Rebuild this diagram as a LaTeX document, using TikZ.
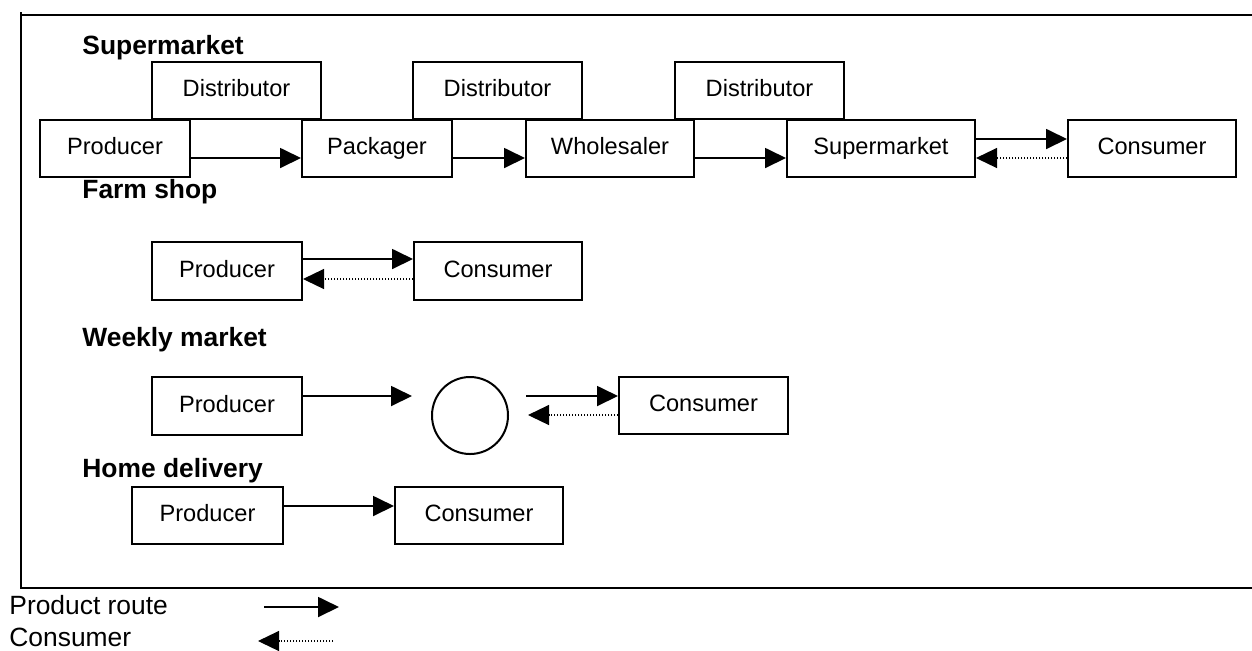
\documentclass[tikz,border=0pt]{standalone}
\usepackage{fontspec}
\setmainfont{Liberation Sans}
\usetikzlibrary{arrows.meta,calc,shapes.geometric}
\begin{document}
\begin{tikzpicture}[x=0.5pt,y=-0.5pt,
  box/.style={draw,line width=1pt,inner sep=0pt,minimum height=28.5pt,text height=8.6pt,text depth=2.4pt,font=\fontsize{11.8}{14}\selectfont},
  title/.style={anchor=base west,inner sep=0pt,font=\fontsize{13.2}{15}\selectfont\bfseries},
  legend/.style={anchor=base west,inner sep=0pt,font=\fontsize{13.2}{15}\selectfont},
  arr/.style={line width=0.9pt,-{Triangle[length=10.5pt,width=10pt]}},
  back/.style={line width=0.6pt,dash pattern=on 0.7pt off 0.8pt,-{Triangle[length=10.5pt,width=10pt]}}]
\useasboundingbox (0,0) rectangle (1252,650);
% frame
\draw[line width=1pt] (21,12) -- (21,588) -- (1252,588);
\draw[line width=1pt] (21,15) -- (1252,15);
% titles
\node[title] (t1) at (82,54) {Supermarket};
\node[title] (t2) at (82,198) {Farm shop};
\node[title] (t3) at (82,346) {Weekly market};
\node[title] (t4) at (82,477) {Home delivery};
% supermarket row
\node[box,minimum width=84.5pt] (d1) at (236.5,90.5) {Distributor};
\node[box,minimum width=84.5pt] (d2) at (497.5,90.5) {Distributor};
\node[box,minimum width=84.5pt] (d3) at (759.5,90.5) {Distributor};
\node[box,minimum width=75pt] (p1) at (115,148.5) {Producer};
\node[box,minimum width=75pt] (pk) at (377,148.5) {Packager};
\node[box,minimum width=84pt] (wh) at (610,148.5) {Wholesaler};
\node[box,minimum width=94pt] (sm) at (881,148.5) {Supermarket};
\node[box,minimum width=84pt] (c1) at (1152,148.5) {Consumer};
\draw[arr] ($(p1.east)+(0,9.5)$) -- ($(pk.west)+(0,9.5)$);
\draw[arr] ($(pk.east)+(0,9.5)$) -- ($(wh.west)+(0,9.5)$);
\draw[arr] ($(wh.east)+(0,9.5)$) -- ($(sm.west)+(0,9.5)$);
\draw[arr] ($(sm.east)+(0,-9.5)$) -- ($(c1.west)+(0,-9.5)$);
\draw[back] ($(c1.west)+(0,9.5)$) -- ($(sm.east)+(0,9.5)$);
% farm shop
\node[box,minimum width=75pt,minimum height=29pt] (p2) at (227,271) {Producer};
\node[box,minimum width=84pt,minimum height=29pt] (c2) at (498,271) {Consumer};
\draw[arr] ($(p2.east)+(0,-12)$) -- ($(c2.west)+(0,-12)$);
\draw[back] ($(c2.west)+(0,8)$) -- ($(p2.east)+(0,8)$);
% weekly market
\node[box,minimum width=75pt,minimum height=29pt] (p3) at (227,406) {Producer};
\node[draw,line width=1pt,ellipse,inner sep=0pt,minimum width=38pt,minimum height=38.5pt] (mk) at (470,415.5) {};
\node[box,minimum width=84.5pt] (c3) at (703.5,405.5) {Consumer};
\coordinate (m1) at ($(mk.west)+(-19,-19.5)$);
\coordinate (m2) at ($(mk.east)+(17,-19.5)$);
\coordinate (m3) at ($(mk.east)+(19,-0.5)$);
\draw[arr] ($(p3.east)+(0,-10)$) -- (m1);
\draw[arr] (m2) -- ($(c3.west)+(0,-9.5)$);
\draw[back] ($(c3.west)+(0,9.5)$) -- (m3);
% home delivery
\node[box,minimum width=75.5pt] (p4) at (207.5,515.5) {Producer};
\node[box,minimum width=84pt] (c4) at (479,515.5) {Consumer};
\draw[arr] ($(p4.east)+(0,-9.5)$) -- ($(c4.west)+(0,-9.5)$);
% legend
\node[legend] (l1) at (9,614) {Product route};
\node[legend] (l2) at (9,646) {Consumer};
\coordinate (a1) at (264,607);
\coordinate (a2) at (339,607);
\coordinate (b1) at (333,641);
\coordinate (b2) at (258,641);
\draw[arr] (a1) -- (a2);
\draw[back] (b1) -- (b2);
\end{tikzpicture}
\end{document}
